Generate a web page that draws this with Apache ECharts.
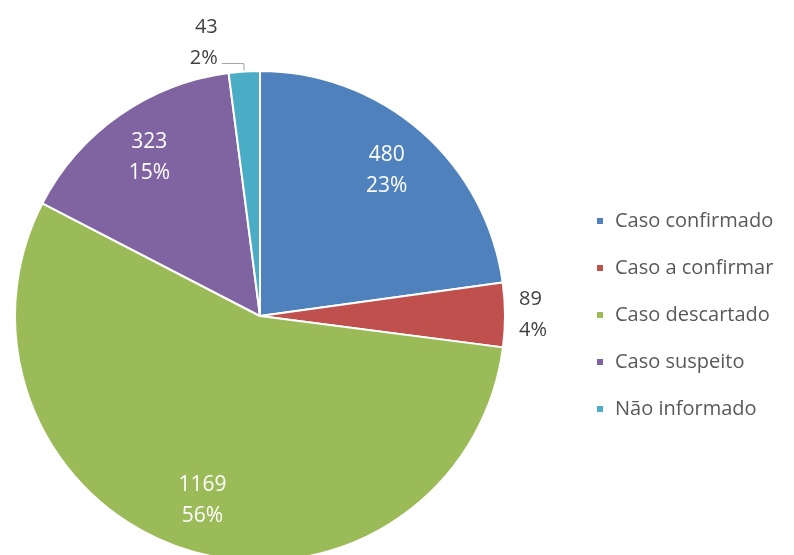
<!DOCTYPE html>
<html>
<head>
<meta charset="utf-8">
<script src="https://cdn.jsdelivr.net/npm/echarts@6/dist/echarts.min.js"></script>
<style>
html,body{margin:0;padding:0;background:#fff;}
#chart{width:794px;height:555px;}
</style>
</head>
<body>
<div id="chart"></div>
<script>
const categories = ['Caso confirmado', 'Caso a confirmar', 'Caso descartado', 'Caso suspeito', 'Não informado'];
const values = [480, 89, 1169, 323, 43];
const colors = ['#4F81BD', '#C0504D', '#9BBB59', '#8064A2', '#4BACC6'];
const insideLabel = [true, false, true, true, false];

const FONT = 'Open Sans';
const center = [260, 316];
const R = 245;

const mainData = categories.map((name, i) => {
  const d = { name, value: values[i], itemStyle: { color: colors[i] } };
  if (!insideLabel[i]) {
    d.label = { show: true };
    if (i === 4) {
      d.label.formatter = '{a|{c}}\n{a|{d}%}\n{b| }';
      d.labelLine = { show: true, length: 8, length2: 22 };
    } else {
      d.labelLine = { show: false, length: 5, length2: 5 };
    }
  } else {
    d.label = { show: false };
  }
  return d;
});

const overlayData = categories.map((name, i) => ({
  name, value: values[i],
  label: { show: insideLabel[i] }
}));

const chart = echarts.init(document.getElementById('chart'), null, { renderer: 'canvas' });
chart.setOption({
  animation: false,
  backgroundColor: '#ffffff',
  legend: {
    orient: 'vertical',
    left: 590,
    top: 206,
    itemWidth: 8,
    itemHeight: 8,
    itemGap: 27,
    icon: 'rect',
    data: categories,
    textStyle: { fontFamily: FONT, fontSize: 20, color: '#595959', lineHeight: 20, padding: [0, 0, 0, 6] }
  },
  series: [
    {
      type: 'pie',
      center: center,
      radius: [0, R],
      startAngle: 90,
      clockwise: true,
      avoidLabelOverlap: false,
      percentPrecision: 0,
      itemStyle: { borderColor: '#ffffff', borderWidth: 2 },
      label: {
        position: 'outside',
        formatter: '{c}\n{d}%',
        fontFamily: FONT,
        fontSize: 20,
        lineHeight: 31,
        color: '#404040',
        distanceToLabelLine: 4,
        rich: {
          a: { fontFamily: FONT, fontSize: 20, lineHeight: 31, color: '#404040' },
          b: { fontSize: 10, lineHeight: 41, height: 41 }
        }
      },
      labelLine: { lineStyle: { color: '#A6A6A6', width: 1 } },
      emphasis: { disabled: true },
      data: mainData
    },
    {
      type: 'pie',
      center: center,
      radius: [135, R],
      startAngle: 90,
      clockwise: true,
      silent: true,
      avoidLabelOverlap: false,
      percentPrecision: 0,
      itemStyle: { color: 'rgba(0,0,0,0)', borderWidth: 0 },
      label: {
        position: 'inside',
        formatter: '{c}\n{d}%',
        fontFamily: FONT,
        fontSize: 21,
        lineHeight: 31,
        color: '#ffffff'
      },
      labelLine: { show: false },
      emphasis: { disabled: true },
      data: overlayData
    }
  ]
});
</script>
</body>
</html>
